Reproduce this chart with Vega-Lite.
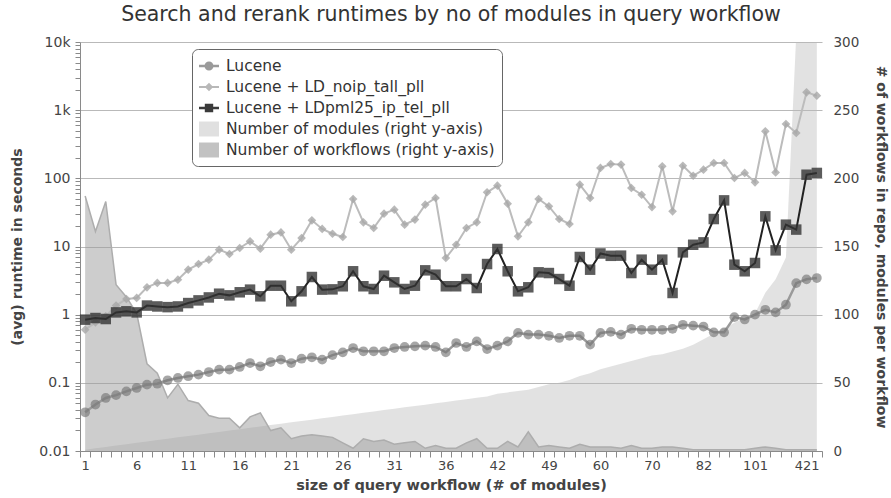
{
  "$schema": "https://vega.github.io/schema/vega-lite/v6.json",
  "width": 742,
  "height": 409,
  "autosize": "none",
  "padding": {"left": 80, "top": 42, "right": 69, "bottom": 47},
  "background": "white",
  "config": {
    "font": "DejaVu Sans",
    "view": {"stroke": null},
    "axis": {"domainColor": "#8a8a8a", "tickColor": "#8a8a8a", "labelColor": "#444444", "titleColor": "#444444", "gridColor": "#b9b9b9", "labelFont": "DejaVu Sans", "titleFont": "DejaVu Sans"}
  },
  "title": {"text": "Search and rerank runtimes by no of modules in query workflow", "fontSize": 20.5, "fontWeight": "normal", "color": "#333333", "offset": 10, "anchor": "middle"},
  "datasets": {
    "main": [
      {"size": "1", "modules": 1, "workflows": 187, "lucene": 0.037, "noip": 0.603, "pml": 0.845},
      {"size": "2", "modules": 2, "workflows": 161, "lucene": 0.048, "noip": 0.772, "pml": 0.893},
      {"size": "3", "modules": 3, "workflows": 183, "lucene": 0.060, "noip": 0.946, "pml": 0.863},
      {"size": "4", "modules": 4, "workflows": 122, "lucene": 0.066, "noip": 1.36, "pml": 1.08},
      {"size": "5", "modules": 5, "workflows": 113, "lucene": 0.075, "noip": 1.70, "pml": 1.12},
      {"size": "6", "modules": 6, "workflows": 101, "lucene": 0.084, "noip": 1.76, "pml": 1.08},
      {"size": "7", "modules": 7, "workflows": 64, "lucene": 0.094, "noip": 2.52, "pml": 1.36},
      {"size": "8", "modules": 8, "workflows": 57, "lucene": 0.097, "noip": 2.92, "pml": 1.32},
      {"size": "9", "modules": 9, "workflows": 39, "lucene": 0.109, "noip": 2.92, "pml": 1.29},
      {"size": "10", "modules": 10, "workflows": 49, "lucene": 0.118, "noip": 3.26, "pml": 1.32},
      {"size": "11", "modules": 11, "workflows": 37, "lucene": 0.125, "noip": 4.57, "pml": 1.48},
      {"size": "12", "modules": 12, "workflows": 35, "lucene": 0.132, "noip": 5.53, "pml": 1.62},
      {"size": "13", "modules": 13, "workflows": 26, "lucene": 0.144, "noip": 6.41, "pml": 1.79},
      {"size": "14", "modules": 14, "workflows": 24, "lucene": 0.156, "noip": 8.99, "pml": 2.03},
      {"size": "15", "modules": 15, "workflows": 24, "lucene": 0.156, "noip": 7.76, "pml": 1.92},
      {"size": "16", "modules": 16, "workflows": 17, "lucene": 0.171, "noip": 9.5, "pml": 2.13},
      {"size": "17", "modules": 17, "workflows": 25, "lucene": 0.195, "noip": 11.9, "pml": 2.33},
      {"size": "18", "modules": 18, "workflows": 28, "lucene": 0.175, "noip": 9.29, "pml": 1.86},
      {"size": "19", "modules": 19, "workflows": 15, "lucene": 0.202, "noip": 14.9, "pml": 2.66},
      {"size": "20", "modules": 20, "workflows": 17, "lucene": 0.219, "noip": 16.1, "pml": 2.66},
      {"size": "21", "modules": 21, "workflows": 9, "lucene": 0.195, "noip": 8.99, "pml": 1.57},
      {"size": "22", "modules": 22, "workflows": 11, "lucene": 0.226, "noip": 13.3, "pml": 2.2},
      {"size": "23", "modules": 23, "workflows": 12, "lucene": 0.237, "noip": 24.2, "pml": 3.57},
      {"size": "24", "modules": 24, "workflows": 11, "lucene": 0.219, "noip": 18.1, "pml": 2.33},
      {"size": "25", "modules": 25, "workflows": 10, "lucene": 0.255, "noip": 15.4, "pml": 2.35},
      {"size": "26", "modules": 26, "workflows": 6, "lucene": 0.28, "noip": 13.8, "pml": 2.61},
      {"size": "27", "modules": 27, "workflows": 2, "lucene": 0.324, "noip": 49.8, "pml": 4.33},
      {"size": "28", "modules": 28, "workflows": 9, "lucene": 0.29, "noip": 22.6, "pml": 2.61},
      {"size": "29", "modules": 29, "workflows": 7, "lucene": 0.29, "noip": 18.7, "pml": 2.38},
      {"size": "30", "modules": 30, "workflows": 8, "lucene": 0.29, "noip": 30.3, "pml": 3.73},
      {"size": "31", "modules": 31, "workflows": 5, "lucene": 0.324, "noip": 34.7, "pml": 2.98},
      {"size": "32", "modules": 32, "workflows": 6, "lucene": 0.336, "noip": 20.9, "pml": 2.38},
      {"size": "33", "modules": 33, "workflows": 7, "lucene": 0.343, "noip": 24.8, "pml": 2.66},
      {"size": "34", "modules": 34, "workflows": 2, "lucene": 0.351, "noip": 41.1, "pml": 4.47},
      {"size": "35", "modules": 35, "workflows": 4, "lucene": 0.336, "noip": 51.5, "pml": 3.86},
      {"size": "36", "modules": 36, "workflows": 2, "lucene": 0.28, "noip": 6.78, "pml": 2.61},
      {"size": "37", "modules": 37, "workflows": 2, "lucene": 0.384, "noip": 10.6, "pml": 2.61},
      {"size": "38", "modules": 38, "workflows": 6, "lucene": 0.336, "noip": 18.7, "pml": 3.33},
      {"size": "39", "modules": 39, "workflows": 9, "lucene": 0.406, "noip": 22.6, "pml": 2.46},
      {"size": "40", "modules": 40, "workflows": 2, "lucene": 0.313, "noip": 62.4, "pml": 5.53},
      {"size": "42", "modules": 42, "workflows": 2, "lucene": 0.351, "noip": 78.1, "pml": 9.19},
      {"size": "43", "modules": 43, "workflows": 7, "lucene": 0.406, "noip": 42.5, "pml": 4.33},
      {"size": "44", "modules": 44, "workflows": 3, "lucene": 0.54, "noip": 14.1, "pml": 2.2},
      {"size": "45", "modules": 45, "workflows": 14, "lucene": 0.51, "noip": 22.6, "pml": 2.52},
      {"size": "47", "modules": 47, "workflows": 3, "lucene": 0.51, "noip": 49.8, "pml": 4.18},
      {"size": "49", "modules": 49, "workflows": 4, "lucene": 0.49, "noip": 38.8, "pml": 4.08},
      {"size": "50", "modules": 50, "workflows": 3, "lucene": 0.455, "noip": 25.3, "pml": 3.33},
      {"size": "52", "modules": 52, "workflows": 2, "lucene": 0.49, "noip": 21.4, "pml": 2.66},
      {"size": "55", "modules": 55, "workflows": 5, "lucene": 0.49, "noip": 80.7, "pml": 7.02},
      {"size": "57", "modules": 57, "workflows": 3, "lucene": 0.363, "noip": 51.5, "pml": 4.57},
      {"size": "60", "modules": 60, "workflows": 3, "lucene": 0.54, "noip": 142, "pml": 7.9},
      {"size": "62", "modules": 62, "workflows": 3, "lucene": 0.56, "noip": 162, "pml": 7.3},
      {"size": "64", "modules": 64, "workflows": 2, "lucene": 0.51, "noip": 159, "pml": 7.34},
      {"size": "66", "modules": 66, "workflows": 4, "lucene": 0.62, "noip": 72.1, "pml": 4.08},
      {"size": "68", "modules": 68, "workflows": 2, "lucene": 0.60, "noip": 57.5, "pml": 6.41},
      {"size": "70", "modules": 70, "workflows": 2, "lucene": 0.60, "noip": 37.9, "pml": 4.57},
      {"size": "71", "modules": 71, "workflows": 3, "lucene": 0.60, "noip": 150, "pml": 6.41},
      {"size": "73", "modules": 73, "workflows": 3, "lucene": 0.62, "noip": 32.8, "pml": 2.08},
      {"size": "75", "modules": 75, "workflows": 2, "lucene": 0.71, "noip": 153, "pml": 8.2},
      {"size": "78", "modules": 78, "workflows": 1, "lucene": 0.69, "noip": 109, "pml": 10.6},
      {"size": "82", "modules": 82, "workflows": 1, "lucene": 0.67, "noip": 134, "pml": 11.5},
      {"size": "86", "modules": 86, "workflows": 1, "lucene": 0.55, "noip": 168, "pml": 25.3},
      {"size": "90", "modules": 90, "workflows": 1, "lucene": 0.55, "noip": 168, "pml": 47.5},
      {"size": "94", "modules": 94, "workflows": 1, "lucene": 0.92, "noip": 101, "pml": 5.41},
      {"size": "98", "modules": 98, "workflows": 1, "lucene": 0.85, "noip": 120, "pml": 4.33},
      {"size": "101", "modules": 101, "workflows": 2, "lucene": 1.0, "noip": 87.4, "pml": 5.73},
      {"size": "116", "modules": 116, "workflows": 3, "lucene": 1.18, "noip": 489, "pml": 27.7},
      {"size": "126", "modules": 126, "workflows": 2, "lucene": 1.08, "noip": 122, "pml": 8.78},
      {"size": "142", "modules": 142, "workflows": 1, "lucene": 1.4, "noip": 627, "pml": 20.9},
      {"size": "305", "modules": 305, "workflows": 1, "lucene": 2.9, "noip": 462, "pml": 17.7},
      {"size": "421", "modules": 421, "workflows": 1, "lucene": 3.3, "noip": 1828, "pml": 113},
      {"size": "1270", "modules": 1270, "workflows": 1, "lucene": 3.45, "noip": 1633, "pml": 120}
    ],
    "series": [
      {"series": "Lucene"},
      {"series": "Lucene + LD_noip_tall_pll"},
      {"series": "Lucene + LDpml25_ip_tel_pll"},
      {"series": "Number of modules (right y-axis)"},
      {"series": "Number of workflows (right y-axis)"}
    ]
  },
  "layer": [
    {
      "data": {"name": "main"},
      "transform": [{"fold": ["modules", "workflows"], "as": ["key", "value"]}],
      "encoding": {
        "x": {"field": "size", "type": "ordinal", "sort": null, "scale": {"type": "band", "paddingInner": 0, "paddingOuter": 0},
          "axis": {"title": "size of query workflow (# of modules)", "titleFontSize": 14.5, "titleFontWeight": "bold", "titlePadding": 6, "labelAngle": 0, "labelFontSize": 13, "labelPadding": 2, "tickSize": 6, "tickBand": "extent", "grid": false, "labelOverlap": false,
            "labelExpr": "indexof(['1','6','11','16','21','26','31','36','42','49','60','70','82','101','421'], datum.label) >= 0 ? datum.label : ''"}},
        "y": {"field": "value", "type": "quantitative", "scale": {"domain": [0, 300], "zero": true},
          "axis": {"orient": "right", "values": [0, 50, 100, 150, 200, 250, 300], "grid": false, "domain": false, "tickSize": 0, "labelPadding": 11, "labelFontSize": 13.5, "title": "# of workflows in repo, modules per workflow", "titleFontSize": 14, "titleFontWeight": "bold", "titlePadding": 15}}
      },
      "layer": [
        {
          "transform": [{"filter": "datum.key == 'modules'"}],
          "mark": {"type": "area", "color": "#b9b9b9", "opacity": 0.42, "clip": true}
        },
        {
          "transform": [{"filter": "datum.key == 'workflows'"}],
          "mark": {"type": "area", "color": "#9c9c9c", "opacity": 0.5, "clip": true, "line": {"color": "#adadad", "strokeWidth": 1.5}}
        }
      ]
    },
    {
      "data": {"name": "main"},
      "transform": [{"fold": ["lucene", "noip", "pml"], "as": ["key", "value"]}],
      "encoding": {
        "x": {"field": "size", "type": "ordinal", "sort": null, "scale": {"type": "band", "paddingInner": 0, "paddingOuter": 0},
          "axis": {"title": "size of query workflow (# of modules)", "titleFontSize": 14.5, "titleFontWeight": "bold", "titlePadding": 6, "labelAngle": 0, "labelFontSize": 13, "labelPadding": 2, "tickSize": 6, "tickBand": "extent", "grid": false, "labelOverlap": false,
            "labelExpr": "indexof(['1','6','11','16','21','26','31','36','42','49','60','70','82','101','421'], datum.label) >= 0 ? datum.label : ''"}},
        "y": {"field": "value", "type": "quantitative", "scale": {"type": "log", "domain": [0.01, 10000]},
          "axis": {"orient": "left", "title": "(avg) runtime in seconds", "titleFontSize": 14, "titleFontWeight": "bold", "titlePadding": 14, "labelFontSize": 14, "labelPadding": 5, "tickSize": 5, "labelOverlap": false, "grid": true,
            "values": [0.01,0.02,0.03,0.04,0.05,0.06,0.07,0.08,0.09,0.1,0.2,0.3,0.4,0.5,0.6,0.7,0.8,0.9,1,2,3,4,5,6,7,8,9,10,20,30,40,50,60,70,80,90,100,200,300,400,500,600,700,800,900,1000,2000,3000,4000,5000,6000,7000,8000,9000,10000],
            "labelExpr": "indexof([0.01,0.1,1,10,100,1000,10000], datum.value) < 0 ? '' : (datum.value >= 1000 ? (datum.value/1000) + 'k' : '' + datum.value)",
            "gridOpacity": {"condition": {"test": "indexof([0.01,0.1,1,10,100,1000,10000], datum.value) >= 0", "value": 1}, "value": 0}}}
      },
      "layer": [
        {
          "transform": [{"filter": "datum.key == 'lucene'"}],
          "mark": {"type": "line", "color": "#9a9a9a", "strokeWidth": 2.5, "point": {"filled": true, "shape": "circle", "size": 95, "color": "#777777", "opacity": 0.65}}
        },
        {
          "transform": [{"filter": "datum.key == 'noip'"}],
          "mark": {"type": "line", "color": "#bcbcbc", "strokeWidth": 2, "point": {"filled": true, "shape": "diamond", "size": 75, "color": "#a8a8a8", "opacity": 0.8}}
        },
        {
          "transform": [{"filter": "datum.key == 'pml'"}],
          "mark": {"type": "line", "color": "#222222", "strokeWidth": 2, "point": {"filled": true, "shape": "square", "size": 110, "color": "#333333", "opacity": 0.8}}
        }
      ]
    },
    {
      "data": {"name": "series"},
      "transform": [{"filter": "false"}],
      "mark": {"type": "point", "filled": true, "size": 400},
      "encoding": {
        "color": {"field": "series", "type": "nominal",
          "scale": {"domain": ["Lucene", "Lucene + LD_noip_tall_pll", "Lucene + LDpml25_ip_tel_pll", "Number of modules (right y-axis)", "Number of workflows (right y-axis)"],
            "range": ["#9a9a9a", "#b8b8b8", "#3a3a3a", "#e0e0e0", "#c2c2c2"]},
          "legend": {"title": null, "orient": "none", "legendX": 112, "legendY": 7, "fillColor": "white", "strokeColor": "#666666", "cornerRadius": 6, "padding": 7, "labelFontSize": 15.5, "labelColor": "#333333", "labelOffset": 7, "rowPadding": 2, "symbolSize": 400, "symbolStrokeWidth": 0, "symbolOpacity": 1, "labelLimit": 400}},
        "shape": {"field": "series", "type": "nominal",
          "scale": {"domain": ["Lucene", "Lucene + LD_noip_tall_pll", "Lucene + LDpml25_ip_tel_pll", "Number of modules (right y-axis)", "Number of workflows (right y-axis)"],
            "range": ["M-1,-0.12H1V0.12H-1ZM0.45,0A0.45,0.45,0,1,1,-0.45,0A0.45,0.45,0,1,1,0.45,0Z", "M-1,-0.1H1V0.1H-1ZM0,-0.42L0.42,0L0,0.42L-0.42,0Z", "M-1,-0.12H1V0.12H-1ZM-0.42,-0.42H0.42V0.42H-0.42Z", "M-1,-0.75H1V0.75H-1Z", "M-1,-0.75H1V0.75H-1Z"]},
          "legend": {"title": null, "orient": "none", "legendX": 112, "legendY": 7, "fillColor": "white", "strokeColor": "#666666", "cornerRadius": 6, "padding": 7, "labelFontSize": 15.5, "labelColor": "#333333", "labelOffset": 7, "rowPadding": 2, "symbolSize": 400, "symbolStrokeWidth": 0, "symbolOpacity": 1, "labelLimit": 400}}
      }
    }
  ],
  "resolve": {"scale": {"y": "independent"}}
}
